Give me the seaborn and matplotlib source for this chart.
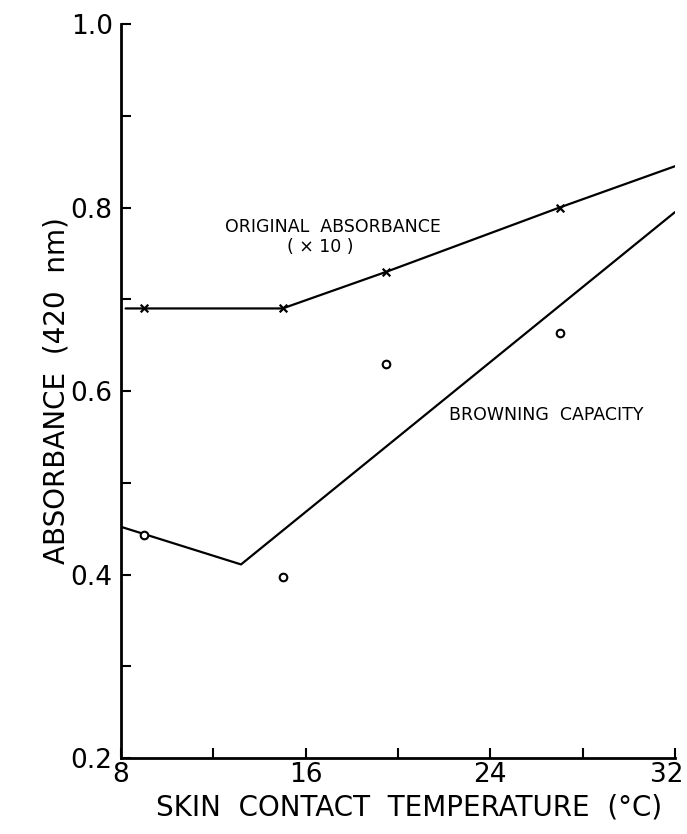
import matplotlib
matplotlib.use("Agg")
import matplotlib.pyplot as plt
import matplotlib.transforms as mtransforms
import seaborn as sns
import pandas as pd

# Measured points
temp_pts = [9, 15, 19.5, 27]
original_abs = [0.69, 0.69, 0.73, 0.80]      # original absorbance (x 10)
browning_cap = [0.443, 0.397, 0.629, 0.663]  # browning capacity

# Drawn trend lines
orig_line_x = [8.2, 15, 19.5, 27, 32]
orig_line_y = [0.69, 0.69, 0.73, 0.80, 0.845]
brown_line_x = [8, 13.2, 32]
brown_line_y = [0.452, 0.411, 0.795]

x_ticks = [8, 12, 16, 20, 24, 28, 32]
x_labels = ["8", "", "16", "", "24", "", "32"]
y_ticks = [0.2, 0.3, 0.4, 0.5, 0.6, 0.7, 0.8, 0.9, 1.0]
y_labels = ["0.2", "", "0.4", "", "0.6", "", "0.8", "", "1.0"]

sns.set_style("ticks")
plt.rcParams["font.family"] = ["DejaVu Sans"]
plt.rcParams["text.color"] = "black"

fig = plt.figure(figsize=(6.87, 8.34), dpi=100)
ax = fig.add_axes([0.1761, 0.0911, 0.8064, 0.8801])

pts = pd.DataFrame({"temp": temp_pts, "orig": original_abs, "brown": browning_cap})
ol = pd.DataFrame({"x": orig_line_x, "y": orig_line_y})
bl = pd.DataFrame({"x": brown_line_x, "y": brown_line_y})

sns.lineplot(data=ol, x="x", y="y", ax=ax, color="black", linewidth=1.6,
             sort=False, estimator=None)
sns.lineplot(data=bl, x="x", y="y", ax=ax, color="black", linewidth=1.6,
             sort=False, estimator=None)
sns.scatterplot(data=pts, x="temp", y="orig", ax=ax, marker="x", color="black",
                s=30, linewidth=1.6, zorder=5)
sns.scatterplot(data=pts, x="temp", y="brown", ax=ax, marker="o",
                facecolor="white", edgecolor="black", s=30, linewidth=1.5,
                zorder=5)

ax.set_xlim(8, 32)
ax.set_ylim(0.2, 1.0)
ax.set_xticks(x_ticks)
ax.set_xticklabels(x_labels, fontsize=19, color="black")
ax.set_yticks(y_ticks)
ax.set_yticklabels(y_labels, fontsize=19, color="black")
ax.tick_params(direction="in", length=7, width=1.5, colors="black")
ax.tick_params(axis="x", pad=3)
ax.tick_params(axis="y", pad=6)

# pull the last x tick label slightly inward so it stays on the canvas
last = ax.get_xticklabels()[-1]
last.set_transform(last.get_transform() +
                   mtransforms.ScaledTranslation(-8 / 100, 0, fig.dpi_scale_trans))

for side in ("top", "right"):
    ax.spines[side].set_visible(False)
for side in ("left", "bottom"):
    ax.spines[side].set_linewidth(2)
    ax.spines[side].set_color("black")

ax.set_xlabel("SKIN  CONTACT  TEMPERATURE  (°C)", fontsize=20, color="black",
              va="center")
ax.set_ylabel("ABSORBANCE  (420  nm)", fontsize=20, color="black", va="center")
ax.xaxis.set_label_coords(0.52, -0.0668)
ax.yaxis.set_label_coords(-0.117, 0.5)

ax.text(17.19, 0.779, "ORIGINAL  ABSORBANCE", ha="center", va="center",
        fontsize=12.5, color="black")
ax.text(16.62, 0.757, "( × 10 )", ha="center", va="center", fontsize=12.5,
        color="black")
ax.text(26.41, 0.574, "BROWNING  CAPACITY", ha="center", va="center",
        fontsize=12.5, color="black")

fig.savefig("out.png", dpi=100)
